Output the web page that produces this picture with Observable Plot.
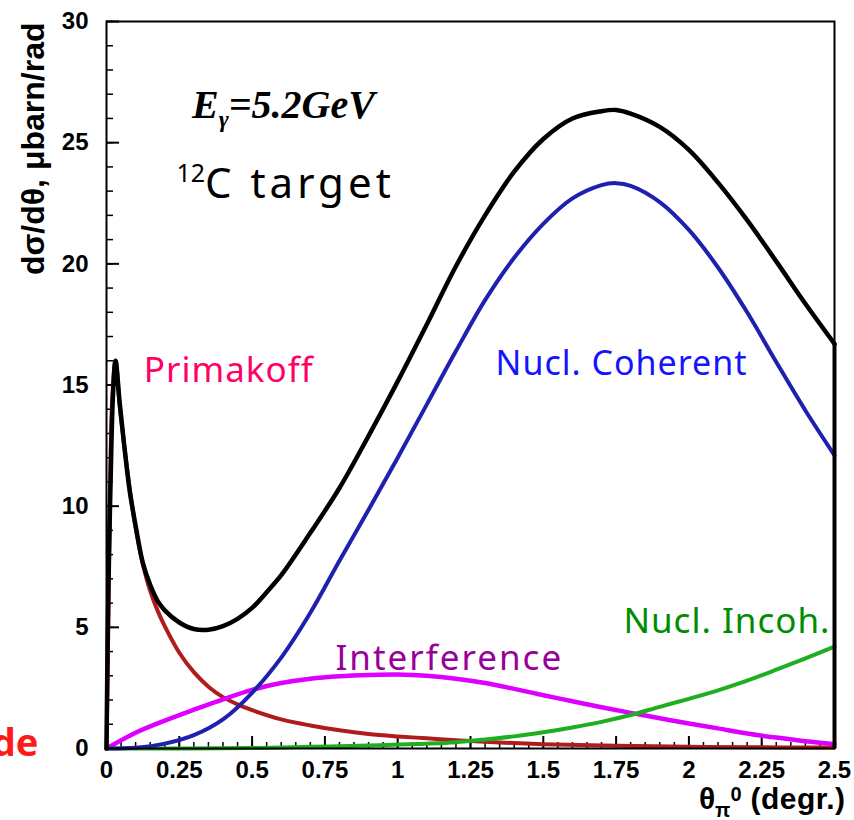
<!DOCTYPE html>
<html><head><meta charset="utf-8">
<script src="https://cdn.jsdelivr.net/npm/d3@7"></script>
<script src="https://cdn.jsdelivr.net/npm/@observablehq/plot@0.6"></script>
<style>body{margin:0;background:#fff}</style>
</head><body><div id="chart"></div>
<script>
// ---- data ----
const primakoffTheta = [0,0.005,0.01,0.02,0.031,0.045,0.06,0.08,0.1,0.125,0.15,0.175,0.2,0.25,0.3,0.35,0.4,0.45,0.5,0.6,0.7,0.8,0.9,1.0,1.1,1.2,1.35,1.5,1.75,2.0,2.25,2.5];
const primakoffValue = [0,4,9,14.5,16.0,14.2,12.6,10.7,9.1,7.6,6.5,5.7,5.05,3.95,3.15,2.55,2.12,1.82,1.58,1.2,0.95,0.75,0.6,0.5,0.42,0.34,0.25,0.18,0.11,0.07,0.05,0.04];

const totalTheta = [0,0.004,0.008,0.014,0.022,0.031,0.045,0.06,0.08,0.1,0.125,0.15,0.175,0.2,0.25,0.3,0.35,0.4,0.45,0.5,0.55,0.6,0.7,0.8,0.9,1.0,1.1,1.2,1.3,1.4,1.5,1.6,1.7,1.75,1.8,1.9,2.0,2.1,2.2,2.3,2.4,2.5];
const totalValue = [0,4.5,7.5,11,14.5,16.0,14.3,12.6,10.6,9.2,7.65,6.75,6.1,5.7,5.2,4.93,4.9,5.05,5.35,5.8,6.45,7.15,8.9,10.75,12.9,15.15,17.5,19.9,22.0,23.8,25.15,26.0,26.3,26.35,26.2,25.65,24.7,23.35,21.8,20.1,18.35,16.7];

const coherentTheta = [0,0.1,0.2,0.3,0.4,0.5,0.6,0.7,0.8,0.9,1.0,1.1,1.2,1.3,1.4,1.5,1.6,1.7,1.75,1.8,1.9,2.0,2.1,2.2,2.3,2.4,2.5];
const coherentValue = [0,0.03,0.2,0.55,1.2,2.3,3.75,5.6,7.75,9.85,12.0,14.2,16.4,18.5,20.25,21.65,22.7,23.25,23.33,23.22,22.55,21.4,19.85,18.0,15.95,13.95,12.1];

const interfTheta = [0,0.1,0.2,0.3,0.4,0.5,0.6,0.7,0.8,0.9,1.0,1.1,1.2,1.3,1.4,1.5,1.6,1.7,1.8,1.9,2.0,2.1,2.2,2.3,2.4,2.5];
const interfValue = [0,0.65,1.15,1.6,2.03,2.42,2.7,2.88,2.98,3.03,3.05,3.0,2.88,2.7,2.46,2.2,1.95,1.7,1.47,1.25,1.03,0.83,0.62,0.45,0.3,0.18];

const incohTheta = [0,0.5,0.7,0.9,1.0,1.1,1.2,1.3,1.4,1.5,1.6,1.7,1.8,1.9,2.0,2.1,2.2,2.3,2.4,2.5];
const incohValue = [0,0.02,0.07,0.12,0.16,0.2,0.26,0.37,0.5,0.67,0.87,1.1,1.38,1.72,2.05,2.4,2.8,3.25,3.72,4.2];

const xTicks = [0,0.25,0.5,0.75,1,1.25,1.5,1.75,2,2.25,2.5];
const xTickLabels = ["0","0.25","0.5","0.75","1","1.25","1.5","1.75","2","2.25","2.5"];
const yTicks = [0,5,10,15,20,25,30];
const yTickLabels = ["0","5","10","15","20","25","30"];
const xMinorTicks = d3.range(0, 51).map(i => i * 0.05);
const yMinorTicks = d3.range(0, 31);

const seriesNames = ["Primakoff","Nucl. Coherent","Interference","Nucl. Incoh."];
const energyLabel = "Eγ=5.2GeV";
const targetLabel = "12C target";
const yAxisLabel = "dσ/dθ, μbarn/rad";
const xAxisLabel = "θπ0 (degr.)";
const cutLabel = "de";

// ---- chart ----
const W = 854, H = 820, mL = 106, mR = 20, mT = 21, mB = 72;
const pw = W - mL - mR, ph = H - mT - mB;
const rows = (xs, ys) => xs.map((x, i) => ({x, y: ys[i]}));
const comic = "'Noto Sans',sans-serif";
const boldSans = "'Liberation Sans',Arial,Helvetica,sans-serif";

const line = (xs, ys, color, sw) => Plot.line(rows(xs, ys), {x: "x", y: "y", stroke: color, strokeWidth: sw, curve: "catmull-rom", strokeLinejoin: "round"});
const label = (text, x, y, color, size, ls) =>
  Plot.text([text], {x: () => x, y: () => y, text: d => d, fill: color, fontSize: size, fontFamily: comic, textAnchor: "start", lineAnchor: "bottom", className: "lbl-" + ls});

const chart = Plot.plot({
  width: W, height: H,
  marginLeft: mL, marginRight: mR, marginTop: mT, marginBottom: mB,
  x: {domain: [0, 2.5]},
  y: {domain: [0, 30]},
  style: {fontFamily: boldSans, background: "white", overflow: "visible"},
  marks: [
    Plot.tickY(yMinorTicks, {y: d => d, insetRight: pw - 7, stroke: "black", strokeWidth: 1.5}),
    Plot.tickY(yTicks, {y: d => d, insetRight: pw - 13, stroke: "black", strokeWidth: 2}),
    Plot.tickX(xMinorTicks, {x: d => d, insetTop: ph - 6, stroke: "black", strokeWidth: 1.5}),
    Plot.tickX(xTicks, {x: d => d, insetTop: ph - 12, stroke: "black", strokeWidth: 2}),
    Plot.axisY({ticks: yTicks, tickSize: 0, tickPadding: 18, label: null,
      tickFormat: d => yTickLabels[yTicks.indexOf(d)], fontSize: 24, fontWeight: "bold", fill: "black"}),
    Plot.axisX({ticks: xTicks, tickSize: 0, tickPadding: 12, label: null,
      tickFormat: d => xTickLabels[xTicks.indexOf(d)], fontSize: 24, fontWeight: "bold", fill: "black"}),
    line(primakoffTheta, primakoffValue, "#b01c1c", 4),
    line(interfTheta, interfValue, "#dd00ff", 4.5),
    line(incohTheta, incohValue, "#1fae1f", 4),
    line(coherentTheta, coherentValue, "#1f1fb0", 4),
    line(totalTheta, totalValue, "black", 4.5),
    Plot.ruleX([totalTheta[totalTheta.length - 1]], {x: d => d, y1: 0, y2: totalValue[totalValue.length - 1], stroke: "black", strokeWidth: 4}),
    Plot.frame({stroke: "black", strokeWidth: 2}),
    label(seriesNames[0], 0.128, 15.14, "#ff0066", 35, 1),
    label(seriesNames[1], 1.336, 15.41, "#1414ff", 34, 1),
    label(seriesNames[2], 0.786, 3.22, "#990099", 35, 2),
    label(seriesNames[3], 1.775, 4.76, "#008c00", 35, 1),
    Plot.text([energyLabel], {x: () => 0.294, y: () => 26.02, text: d => d, fontFamily: "'Liberation Serif','Times New Roman',serif", fontWeight: "bold", fontStyle: "italic", fontSize: 40, textAnchor: "start", lineAnchor: "bottom", fill: "black"}),
    Plot.text([targetLabel], {x: () => 0.24, y: () => 22.71, text: d => d, fontFamily: comic, fontSize: 42, textAnchor: "start", lineAnchor: "bottom", fill: "black"}),
    Plot.text([cutLabel], {x: () => -0.2335, y: () => -0.29, text: d => d, fontFamily: comic, fontWeight: "bold", fontSize: 38, textAnchor: "end", lineAnchor: "bottom", fill: "#ff1a1a"}),
    Plot.text([xAxisLabel], {x: () => 2.538, y: () => -2.5, text: d => d, fontFamily: boldSans, fontWeight: "bold", fontSize: 30, textAnchor: "end", lineAnchor: "bottom", fill: "black"}),
    Plot.text([yAxisLabel], {frameAnchor: "top-left", dx: -73, dy: 1, rotate: -90, text: d => d, fontFamily: boldSans, fontWeight: "bold", fontSize: 32, textAnchor: "end", lineAnchor: "middle", fill: "black"})
  ]
});

// letter spacing for the curve labels
d3.select(chart).selectAll(".lbl-1 text").attr("letter-spacing", 1);
d3.select(chart).selectAll(".lbl-2 text").attr("letter-spacing", 2);

// rich text (sub/superscripts)
d3.select(chart).selectAll("text").each(function() {
  const t = d3.select(this);
  const s = this.textContent;
  if (s === energyLabel) {
    t.text(null);
    t.append("tspan").text("E");
    t.append("tspan").attr("font-size", 24).attr("dy", 9).text("γ");
    t.append("tspan").attr("dy", -9).text("=5.2GeV");
  } else if (s === targetLabel) {
    t.text(null);
    t.append("tspan").attr("font-size", 25).attr("dy", -16).text("12");
    t.append("tspan").attr("dy", 16).attr("letter-spacing", 4).text("C target");
  } else if (s === xAxisLabel) {
    t.text(null);
    t.append("tspan").text("θ");
    t.append("tspan").attr("font-size", 20).attr("dy", 8).text("π");
    t.append("tspan").attr("font-size", 20).attr("dy", -16).text("0");
    t.append("tspan").attr("dy", 8).attr("letter-spacing", 0.5).text(" (degr.)");
  }
});

document.getElementById("chart").appendChild(chart);
</script>
</body></html>
